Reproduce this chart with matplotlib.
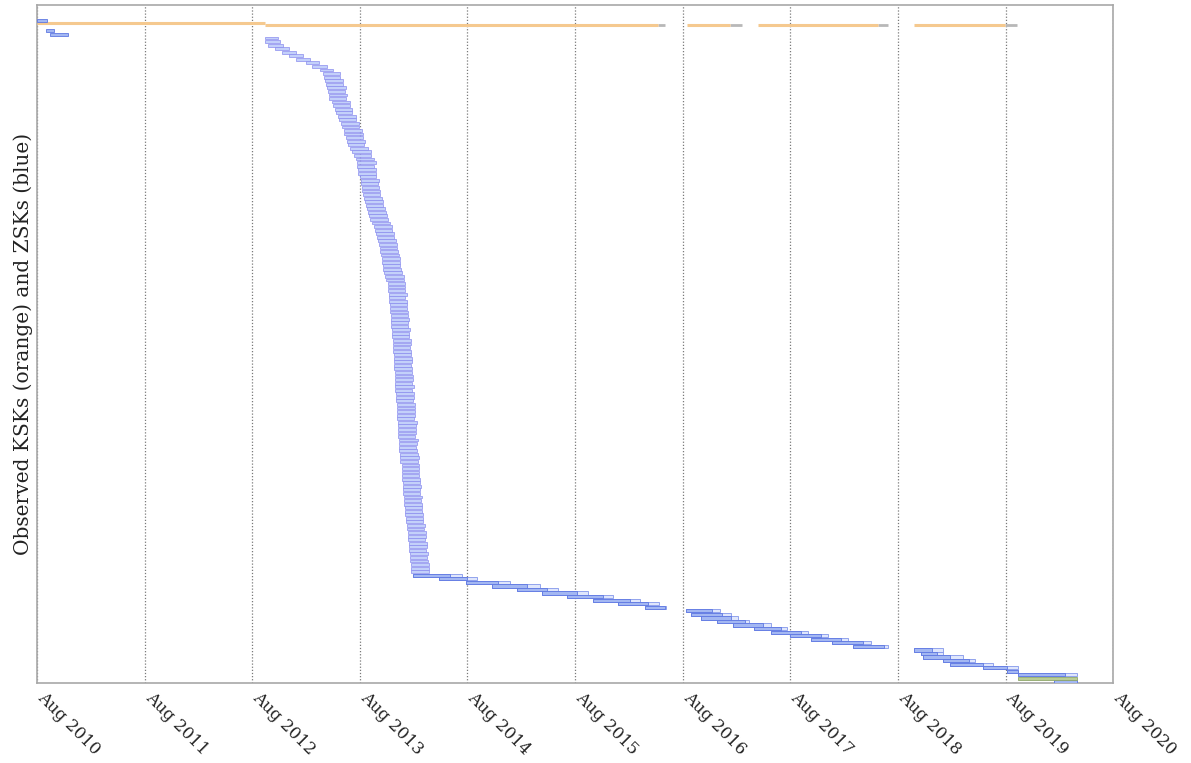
import matplotlib
matplotlib.use("Agg")
import matplotlib.pyplot as plt
import matplotlib.transforms as mtransforms
import numpy as np

plt.rcParams['font.family'] = ['DejaVu Serif']

# x values are decimal years; rows are key order (top = oldest)
tick_pos = [2010.583, 2011.583, 2012.583, 2013.583, 2014.583,
            2015.583, 2016.583, 2017.583, 2018.583, 2019.583, 2020.583]
tick_labels = ['Aug 2010', 'Aug 2011', 'Aug 2012', 'Aug 2013', 'Aug 2014',
               'Aug 2015', 'Aug 2016', 'Aug 2017', 'Aug 2018', 'Aug 2019', 'Aug 2020']

# first KSK, seen before the 2012 rollover
ksk_old_row = 0.65
ksk_old_start = 2010.58
ksk_old_end = 2012.70

# KSK (one row, observed in several windows): start, end of signing, end of publication
ksk_row = 1.3
ksk_start = [2012.70, 2016.62, 2017.28, 2018.73]
ksk_active_end = [2016.35, 2017.02, 2018.40, 2019.58]
ksk_end = [2016.42, 2017.13, 2018.49, 2019.69]

# first ZSKs seen in 2010
early_rows = [0, 3, 4]
early_start = [2010.58, 2010.67, 2010.70]
early_end = [2010.68, 2010.74, 2010.87]

# short-lived ZSKs, 2012-2014 (rows 5 onwards)
zsk_start = [
    2012.70, 2012.70, 2012.73, 2012.79, 2012.86, 2012.92, 2012.99, 2013.08, 2013.14, 2013.21,
    2013.24, 2013.25, 2013.26, 2013.27, 2013.28, 2013.29, 2013.30, 2013.30, 2013.32, 2013.33,
    2013.35, 2013.36, 2013.38, 2013.39, 2013.41, 2013.42,
    2013.44, 2013.44, 2013.45, 2013.46, 2013.47, 2013.49, 2013.51, 2013.53, 2013.55, 2013.56,
    2013.56, 2013.57, 2013.57, 2013.58, 2013.59, 2013.59, 2013.60, 2013.60, 2013.61, 2013.62,
    2013.63, 2013.64, 2013.65, 2013.66, 2013.67,
    2013.68, 2013.70, 2013.71, 2013.72, 2013.73, 2013.74, 2013.75, 2013.76, 2013.77, 2013.77,
    2013.78, 2013.79, 2013.79, 2013.80, 2013.80,
    2013.81, 2013.82, 2013.83, 2013.84, 2013.84, 2013.84, 2013.85, 2013.85, 2013.85, 2013.86,
    2013.86, 2013.86, 2013.87, 2013.87, 2013.87, 2013.87, 2013.88, 2013.88, 2013.88, 2013.89,
    2013.89, 2013.89, 2013.89, 2013.90, 2013.90, 2013.90, 2013.90, 2013.90, 2013.91, 2013.91,
    2013.91, 2013.91, 2013.91, 2013.91, 2013.92, 2013.92, 2013.92, 2013.93, 2013.93, 2013.93,
    2013.93, 2013.93, 2013.94, 2013.94, 2013.94, 2013.94, 2013.94, 2013.95, 2013.95, 2013.95,
    2013.95, 2013.96, 2013.96, 2013.96, 2013.97, 2013.97, 2013.97, 2013.97, 2013.97, 2013.98,
    2013.98, 2013.98, 2013.98, 2013.99, 2013.99, 2013.99, 2014.00, 2014.00, 2014.00, 2014.01,
    2014.01, 2014.02, 2014.02, 2014.03, 2014.03, 2014.03, 2014.04, 2014.04, 2014.04, 2014.05,
    2014.05, 2014.05, 2014.06, 2014.06, 2014.06,
]
zsk_days = [
    44, 50, 52, 48, 47, 48, 47, 45, 50, 45,
    58, 55, 60, 57, 62, 58, 60, 57, 61, 58, 60, 56, 62, 58, 60, 57,
    60, 62, 58, 61, 57, 60, 63, 58, 60, 62,
    58, 61, 60, 57, 62, 59, 60, 63, 58, 61, 60, 57, 62, 59, 61,
    60, 58, 62, 59, 61, 57, 60, 63, 58, 61, 60, 59, 62, 58, 61,
    60, 62, 58, 61, 59, 60, 63, 57, 61, 60, 58, 62, 59, 61, 60, 57, 62, 60, 58, 61,
    60, 59, 62, 58, 61, 60, 57, 62, 59, 61, 60, 58, 63, 59, 61, 60, 58, 62, 59, 61,
    60, 58, 62, 59, 61, 60, 57, 62, 60, 58, 61, 59, 62, 60, 58, 61, 60, 59, 62, 58,
    61, 60, 58, 62, 59, 61, 60, 57, 62, 60, 58, 61, 59, 62, 60, 58, 61, 60, 59, 62,
    58, 61, 60, 59, 62,
]

# longer-lived ZSKs, mid 2014 onwards: start, end of signing, end of publication
roll_start = [
    2014.08, 2014.32, 2014.57, 2014.81, 2015.04, 2015.28, 2015.51, 2015.75, 2015.98, 2016.23,
    2016.61, 2016.66, 2016.75, 2016.90, 2017.05, 2017.25, 2017.40, 2017.58, 2017.78, 2017.97, 2018.17,
    2018.73, 2018.80, 2018.82, 2019.00, 2019.07, 2019.37, 2019.60,
    2019.70, 2020.03,
]
roll_active_end = [
    2014.42, 2014.58, 2014.87, 2015.14, 2015.32, 2015.60, 2015.84, 2016.09, 2016.26, 2016.42,
    2016.86, 2016.95, 2017.03, 2017.16, 2017.33, 2017.50, 2017.68, 2017.87, 2018.05, 2018.26, 2018.45,
    2018.90, 2018.95, 2019.07, 2019.24, 2019.37, 2019.60, 2019.70,
    2020.14, 2020.25,
]
roll_end = [
    2014.53, 2014.67, 2014.98, 2015.26, 2015.42, 2015.70, 2015.94, 2016.19, 2016.36, 2016.43,
    2016.93, 2017.03, 2017.10, 2017.20, 2017.40, 2017.55, 2017.75, 2017.93, 2018.12, 2018.33, 2018.49,
    2019.00, 2019.00, 2019.19, 2019.30, 2019.47, 2019.70, 2019.70,
    2020.25, 2020.25,
]
roll_rows = list(range(156, 184)) + [184, 186]

# key with the new algorithm
alg_row = 185
alg_start = 2019.70
alg_end = 2020.25

fig = plt.figure(figsize=(11.91, 7.63), dpi=100)
ax = fig.add_axes([0.0311, 0.1048, 0.9035, 0.8886])

blue_face = '#a3b7f2'
blue_edge = '#5f78e2'
orange = '#f5c98f'

# KSK line: orange while signing, grey until removed
ax.hlines(ksk_old_row, ksk_old_start, ksk_old_end, color=orange, lw=2.2, zorder=3)
for s, a, e in zip(ksk_start, ksk_active_end, ksk_end):
    ax.hlines(ksk_row, a, e, color='#b8b8b8', lw=2.0, zorder=3)
    ax.hlines(ksk_row, s, a, color=orange, lw=2.2, zorder=3)

ax.barh(early_rows, np.subtract(early_end, early_start), left=early_start, height=0.85,
        color=blue_face, edgecolor=blue_edge, lw=0.6, zorder=3)

zsk_rows = np.arange(5, 5 + len(zsk_start))
zsk_width = np.array(zsk_days) / 365.25
ax.barh(zsk_rows, zsk_width, left=zsk_start, height=0.8,
        color='#c3d0fa', edgecolor='#8a8cee', lw=0.5, zorder=3)

ax.barh(roll_rows, np.subtract(roll_end, roll_start), left=roll_start, height=0.9,
        color='#dfe6fc', edgecolor='#8396ea', lw=0.6, zorder=3)
ax.barh(roll_rows, np.subtract(roll_active_end, roll_start), left=roll_start, height=0.9,
        color=blue_face, edgecolor=blue_edge, lw=0.6, zorder=4)

ax.barh([alg_row], [alg_end - alg_start], left=[alg_start], height=0.9,
        color='#b9cd95', edgecolor='#8fa86a', lw=0.6, zorder=5)

ax.set_xlim(2010.583, 2020.583)
ax.set_ylim(186.3, -4.27)

ax.set_xticks(tick_pos)
ax.set_xticklabels(tick_labels, rotation=-45, ha='left', va='top',
                   rotation_mode='anchor', fontsize=12, color='#222222')
ax.tick_params(axis='x', length=0, pad=4)
shift = mtransforms.ScaledTranslation(9 / 100, 0, fig.dpi_scale_trans)
for lab in ax.get_xticklabels():
    lab.set_transform(lab.get_transform() + shift)
ax.set_yticks([])
ax.grid(axis='x', linestyle=(0, (1, 1.5)), color='#7a7a7a', lw=0.9)
ax.set_axisbelow(True)

for side in ax.spines.values():
    side.set_color('#a8a8a8')
    side.set_linewidth(1.2)

ax.set_ylabel('Observed KSKs (orange) and ZSKs (blue)', fontsize=14.5, color='#222222')
ax.yaxis.set_label_coords(-0.004, 0.5)

fig.savefig('out.png', dpi=100)
